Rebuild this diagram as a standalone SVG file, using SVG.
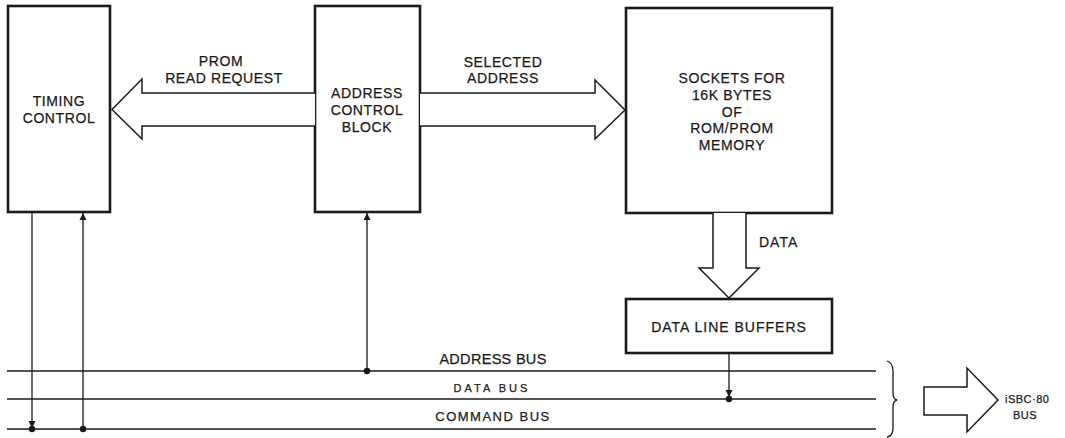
<svg xmlns="http://www.w3.org/2000/svg" width="1065" height="438" viewBox="0 0 1065 438">
<defs>
<marker id="ah" viewBox="0 0 10 10" refX="10" refY="5" markerWidth="7" markerHeight="9" markerUnits="userSpaceOnUse" orient="auto">
<path d="M0,0 L10,5 L0,10 Z" fill="#1a1a1a"/>
</marker>
</defs>
<style>
.box{fill:#fff;stroke:#1a1a1a;stroke-width:2.6}
.fat{fill:#fff;stroke:#1a1a1a;stroke-width:1.5;stroke-linejoin:miter}
.bus{fill:none;stroke:#1a1a1a;stroke-width:1.5}
.ln{fill:none;stroke:#1a1a1a;stroke-width:1.3}
.dot{fill:#1a1a1a}
text{font-family:"Liberation Sans",Arial,sans-serif;font-size:14px;fill:#1a1a1a;stroke:#1a1a1a;stroke-width:0.25;letter-spacing:0.6px;text-anchor:middle}
.sm{font-size:11px;letter-spacing:0.5px;text-anchor:start}
</style>
<rect width="1065" height="438" fill="#fff"/>

<g id="timing-control">
<rect class="box" x="8" y="6" width="102" height="206"/>
<text x="59" y="106">TIMING</text>
<text x="59" y="123">CONTROL</text>
</g>

<g id="address-control-block">
<rect class="box" x="315" y="6" width="105" height="206"/>
<text x="367" y="98">ADDRESS</text>
<text x="367" y="115">CONTROL</text>
<text x="367" y="132">BLOCK</text>
</g>

<g id="sockets">
<rect class="box" x="626" y="8" width="206" height="205"/>
<text x="732" y="83">SOCKETS FOR</text>
<text x="732" y="100">16K BYTES</text>
<text x="732" y="117">OF</text>
<text x="732" y="133">ROM/PROM</text>
<text x="732" y="150">MEMORY</text>
</g>

<g id="data-line-buffers">
<rect class="box" x="626" y="299" width="206" height="54"/>
<text x="729" y="332" style="letter-spacing:1px">DATA LINE BUFFERS</text>
</g>

<g id="connectors">
<!-- PROM read request fat arrow -->
<path class="fat" d="M315,93 L142,93 L142,79 L112,109.5 L142,139 L142,126 L315,126"/>
<text x="221" y="66">PROM</text>
<text x="224" y="83">READ REQUEST</text>
<!-- Selected address fat arrow -->
<path class="fat" d="M420,93 L595,93 L595,80 L625,110 L595,139 L595,126 L420,126"/>
<text x="503" y="67">SELECTED</text>
<text x="503" y="83">ADDRESS</text>
<!-- Data fat arrow -->
<path class="fat" d="M713,213 L713,268 L699,268 L729,298 L759,268 L746,268 L746,213"/>
<text x="759" y="247" style="text-anchor:start;letter-spacing:1px">DATA</text>

<!-- buses -->
<line class="bus" x1="7" y1="371" x2="876" y2="371"/>
<line class="bus" x1="7" y1="399" x2="876" y2="399"/>
<line class="bus" x1="7" y1="429" x2="876" y2="429"/>
<text x="493" y="364" style="font-size:14.5px;letter-spacing:0.3px">ADDRESS BUS</text>
<text x="492" y="392" style="font-size:11px;letter-spacing:3px">DATA BUS</text>
<text x="493" y="421" style="font-size:13px;letter-spacing:1.5px">COMMAND BUS</text>

<!-- timing control lines -->
<line class="ln" x1="32" y1="212" x2="32" y2="428" marker-end="url(#ah)"/>
<circle class="dot" cx="32" cy="429" r="3.2"/>
<line class="ln" x1="83" y1="429" x2="83" y2="213" marker-end="url(#ah)"/>
<circle class="dot" cx="83" cy="429" r="3.2"/>
<!-- address control block line -->
<line class="ln" x1="367" y1="371" x2="367" y2="213" marker-end="url(#ah)"/>
<circle class="dot" cx="367" cy="371" r="3.2"/>
<!-- data line buffers line -->
<line class="ln" x1="729" y1="353" x2="729" y2="397" marker-end="url(#ah)"/>
<circle class="dot" cx="729" cy="399" r="3.2"/>

<!-- brace -->
<path class="ln" d="M887,361 Q893,363 893,371 L893,393 Q893,399 897,400 Q893,401 893,407 L893,428 Q893,436 887,437"/>

<!-- iSBC-80 bus arrow -->
<path class="fat" d="M924,387 L967,387 L967,368 L998,400 L967,432 L967,415 L924,415 Z"/>
<text class="sm" x="1005" y="403">iSBC·80</text>
<text class="sm" x="1013" y="419">BUS</text>
</g>
</svg>
